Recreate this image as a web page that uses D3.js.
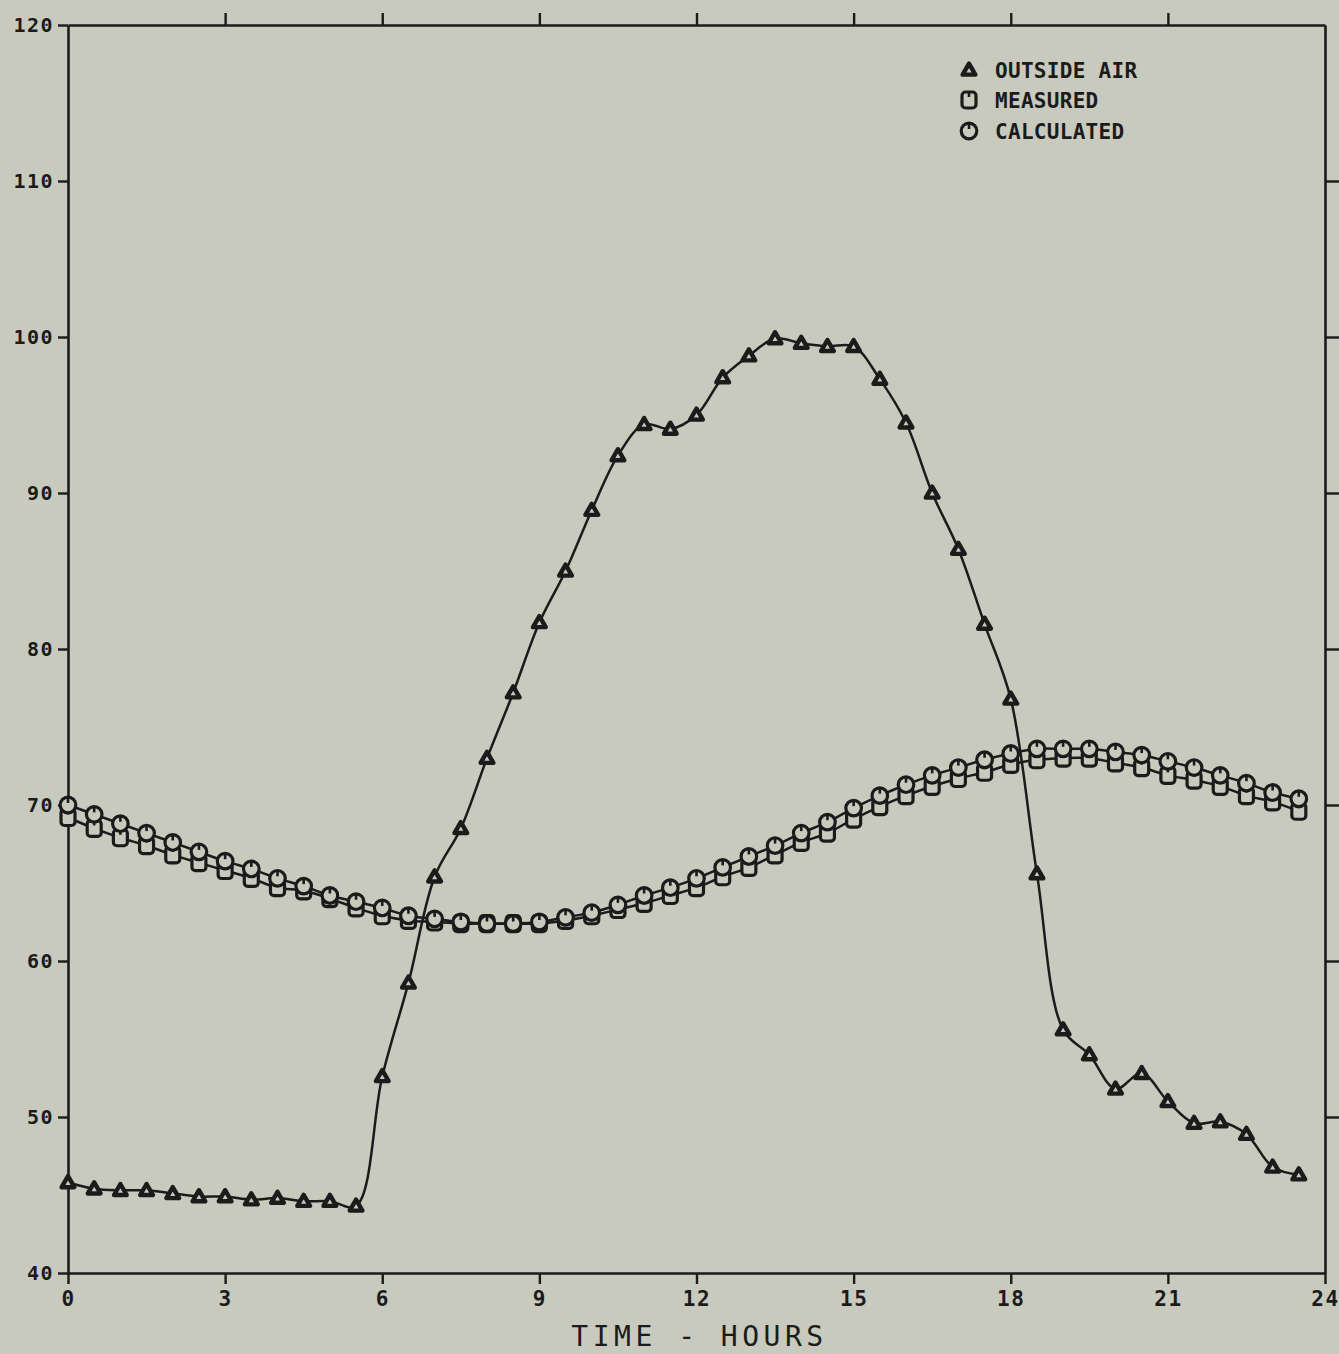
<!DOCTYPE html>
<html>
<head>
<meta charset="utf-8">
<script src="https://cdn.jsdelivr.net/npm/d3@7"></script>
<style>
  html, body { margin: 0; padding: 0; background: #c8cabe; }
  svg { display: block; }
</style>
</head>
<body>
<svg id="chart" width="1339" height="1354"></svg>
<script>
// ---- data ----
const hours = [0, 0.5, 1, 1.5, 2, 2.5, 3, 3.5, 4, 4.5, 5, 5.5,
  6, 6.5, 7, 7.5, 8, 8.5, 9, 9.5, 10, 10.5, 11, 11.5,
  12, 12.5, 13, 13.5, 14, 14.5, 15, 15.5, 16, 16.5, 17, 17.5,
  18, 18.5, 19, 19.5, 20, 20.5, 21, 21.5, 22, 22.5, 23, 23.5];

const outsideAir = [45.8, 45.4, 45.3, 45.3, 45.1, 44.9, 44.9, 44.7, 44.8, 44.6, 44.6, 44.3,
  52.6, 58.6, 65.4, 68.5, 73.0, 77.2, 81.7, 85.0, 88.9, 92.4, 94.4, 94.1,
  95.0, 97.4, 98.8, 99.9, 99.6, 99.4, 99.4, 97.3, 94.5, 90.0, 86.4, 81.6,
  76.8, 65.6, 55.6, 54.0, 51.8, 52.8, 51.0, 49.6, 49.7, 48.9, 46.8, 46.3];

const measured = [69.2, 68.5, 67.9, 67.4, 66.8, 66.3, 65.8, 65.3, 64.7, 64.5, 64.0, 63.4,
  62.9, 62.6, 62.5, 62.4, 62.4, 62.4, 62.4, 62.6, 62.9, 63.3, 63.7, 64.2,
  64.7, 65.4, 66.0, 66.8, 67.6, 68.2, 69.1, 69.9, 70.6, 71.2, 71.7, 72.1,
  72.6, 72.9, 73.0, 73.0, 72.7, 72.4, 71.9, 71.6, 71.2, 70.6, 70.2, 69.6];

const calculated = [70.0, 69.4, 68.8, 68.2, 67.6, 67.0, 66.4, 65.9, 65.3, 64.8, 64.2, 63.8,
  63.4, 62.9, 62.7, 62.5, 62.4, 62.4, 62.5, 62.8, 63.1, 63.6, 64.2, 64.7,
  65.3, 66.0, 66.7, 67.4, 68.2, 68.9, 69.8, 70.6, 71.3, 71.9, 72.4, 72.9,
  73.3, 73.6, 73.6, 73.6, 73.4, 73.2, 72.8, 72.4, 71.9, 71.4, 70.8, 70.4];

const xTicks = [0, 3, 6, 9, 12, 15, 18, 21, 24];
const xTopTicks = [3, 6, 9, 12, 15, 18, 21];
const yTicks = [40, 50, 60, 70, 80, 90, 100, 110, 120];
const yRightTicks = [50, 60, 70, 80, 90, 100, 110];
const xTitle = "TIME - HOURS";
const legendLabels = ["OUTSIDE AIR", "MEASURED", "CALCULATED"];

// ---- drawing ----
const INK = "#1b1b1b";
const BG = "#c8cabe";
const svg = d3.select("#chart");
svg.append("rect").attr("width", 1339).attr("height", 1354).attr("fill", BG);

const x = d3.scaleLinear().domain([0, 24]).range([68, 1325]);
const y = d3.scaleLinear().domain([40, 120]).range([1273, 25]);

const monoFont = "'DejaVu Sans Mono', monospace";

function styleAxis(g) {
  g.selectAll("path.domain").attr("stroke", INK).attr("stroke-width", 2.6);
  g.selectAll(".tick line").attr("stroke", INK).attr("stroke-width", 2.4);
  g.selectAll(".tick text").attr("fill", INK).attr("font-family", monoFont).attr("font-weight", "bold");
}

// bottom
const gB = svg.append("g").attr("transform", `translate(0,${y(40)})`)
  .call(d3.axisBottom(x).tickValues(xTicks).tickSize(11).tickSizeOuter(0).tickPadding(7).tickFormat(d3.format("d")));
styleAxis(gB);
gB.selectAll(".tick text").attr("font-size", 21).attr("letter-spacing", 1.5);

// left
const gL = svg.append("g").attr("transform", `translate(${x(0)},0)`)
  .call(d3.axisLeft(y).tickValues(yTicks).tickSize(10).tickSizeOuter(0).tickPadding(4).tickFormat(d3.format("d")));
styleAxis(gL);
gL.selectAll(".tick text").attr("font-size", 20).attr("letter-spacing", 1.5);

// top
const gT = svg.append("g").attr("transform", `translate(0,${y(120)})`)
  .call(d3.axisTop(x).tickValues(xTopTicks).tickSize(12).tickSizeOuter(0).tickFormat(""));
styleAxis(gT);

// right
const gR = svg.append("g").attr("transform", `translate(${x(24)},0)`)
  .call(d3.axisRight(y).tickValues(yRightTicks).tickSize(14).tickSizeOuter(0).tickFormat(""));
styleAxis(gR);

// x title
svg.append("text")
  .attr("x", (x(0) + x(24)) / 2 + 3)
  .attr("y", 1346)
  .attr("text-anchor", "middle")
  .attr("font-family", monoFont)
  .attr("font-size", 28)
  .attr("letter-spacing", 4.5)
  .attr("fill", INK)
  .text(xTitle);

// lines
const line = d3.line().curve(d3.curveCatmullRom.alpha(0.5));
function series(vals) { return hours.map((h, i) => [x(h), y(vals[i])]); }

const plot = svg.append("g");
[calculated, measured, outsideAir].forEach(vals => {
  plot.append("path")
    .attr("d", line(series(vals)))
    .attr("fill", "none")
    .attr("stroke", INK)
    .attr("stroke-width", 2.5);
});

// markers
function drawTriangle(g, cx, cy) {
  g.append("path")
    .attr("d", d3.symbol().type(d3.symbolTriangle).size(70)())
    .attr("transform", `translate(${cx},${cy + 1})`)
    .attr("fill", BG).attr("stroke", INK).attr("stroke-width", 4.4)
    .attr("stroke-linejoin", "round");
}
function drawSquare(g, cx, cy) {
  g.append("rect")
    .attr("x", cx - 7).attr("y", cy - 8).attr("width", 14).attr("height", 16)
    .attr("rx", 3.5)
    .attr("fill", BG).attr("stroke", INK).attr("stroke-width", 3.2);
  g.append("line")
    .attr("x1", cx).attr("x2", cx).attr("y1", cy - 8).attr("y2", cy - 3)
    .attr("stroke", INK).attr("stroke-width", 2.6);
}
function drawCircle(g, cx, cy) {
  g.append("circle")
    .attr("cx", cx).attr("cy", cy).attr("r", 7.8)
    .attr("fill", BG).attr("stroke", INK).attr("stroke-width", 3.2);
  g.append("line")
    .attr("x1", cx).attr("x2", cx).attr("y1", cy - 7.8).attr("y2", cy - 2)
    .attr("stroke", INK).attr("stroke-width", 2.6);
}

const mk = svg.append("g");
hours.forEach((h, i) => drawSquare(mk, x(h), y(measured[i])));
hours.forEach((h, i) => drawCircle(mk, x(h), y(calculated[i])));
hours.forEach((h, i) => drawTriangle(mk, x(h), y(outsideAir[i])));

// legend
const lg = svg.append("g");
const legendDraw = [drawTriangle, drawSquare, drawCircle];
const legendY = [70, 100, 131];
legendLabels.forEach((lab, i) => {
  legendDraw[i](lg, 969, legendY[i]);
  lg.append("text")
    .attr("x", 995).attr("y", legendY[i] + 8)
    .attr("font-family", monoFont)
    .attr("font-size", 21)
    .attr("font-weight", "bold")
    .attr("letter-spacing", 0.3)
    .attr("fill", INK)
    .text(lab);
});
</script>
</body>
</html>
